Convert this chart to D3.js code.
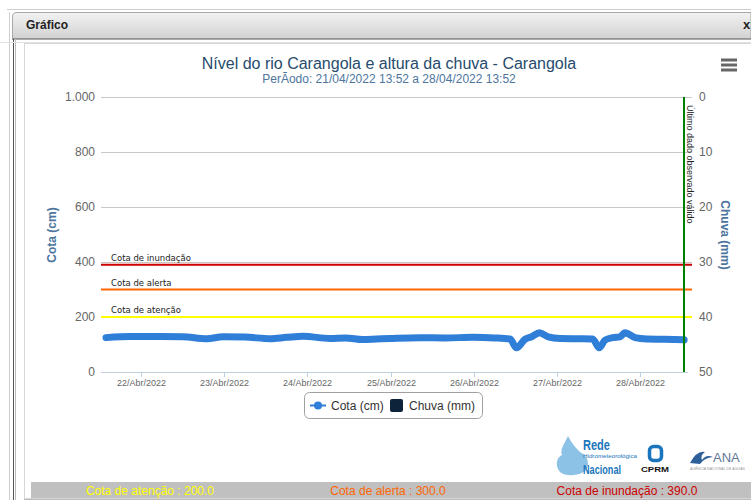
<!DOCTYPE html>
<html>
<head>
<meta charset="utf-8">
<script src="https://cdn.jsdelivr.net/npm/d3@7"></script>
<style>
  html, body { margin: 0; padding: 0; background: #fff; }
  svg { display: block; font-family: 'Liberation Sans', Arial, sans-serif; }
</style>
</head>
<body>
<div id="chart"></div>
<script>
(function() {
  'use strict';

  // cota series (cm)
  var cotaTimes = [
    '2022-04-21 13:52', '2022-04-21 21:00', '2022-04-22 05:30', '2022-04-22 12:00',
    '2022-04-22 19:00', '2022-04-22 23:40', '2022-04-23 06:00', '2022-04-23 13:15',
    '2022-04-23 18:00', '2022-04-23 22:45', '2022-04-24 06:30', '2022-04-24 11:00',
    '2022-04-24 16:00', '2022-04-24 20:00', '2022-04-25 00:00', '2022-04-25 08:30',
    '2022-04-25 16:00', '2022-04-25 23:45', '2022-04-26 06:00', '2022-04-26 10:30',
    '2022-04-26 12:20', '2022-04-26 14:50', '2022-04-26 16:45', '2022-04-26 19:00',
    '2022-04-26 21:30', '2022-04-27 01:00', '2022-04-27 06:00', '2022-04-27 10:20',
    '2022-04-27 12:15', '2022-04-27 13:55', '2022-04-27 16:10', '2022-04-27 18:15',
    '2022-04-27 19:40', '2022-04-27 22:35', '2022-04-28 02:00', '2022-04-28 07:00',
    '2022-04-28 12:45'
  ];
  var cotaValues = [
    125, 129, 129, 128,
    121, 128, 127, 121,
    126, 130, 122, 124,
    118, 120, 122, 125,
    124, 126, 124, 120,
    88, 119, 128, 143,
    128, 122, 121, 120,
    88, 116, 125, 128,
    143, 125, 120, 119,
    117
  ];
  var chuvaValues = [];

  var periodo = ['2022-04-21 13:52', '2022-04-28 13:52'];
  var ultimoDado = '2022-04-28 12:45';

  var cotaTicks = [0, 200, 400, 600, 800, 1000];
  var chuvaTicks = [0, 10, 20, 30, 40, 50];
  var dateTicks = ['2022-04-22', '2022-04-23', '2022-04-24', '2022-04-25', '2022-04-26', '2022-04-27', '2022-04-28'];
  var meses = ['Jan', 'Fev', 'Mar', 'Abr', 'Mai', 'Jun', 'Jul', 'Ago', 'Set', 'Out', 'Nov', 'Dez'];

  var cotaNames = ['Cota de atenção', 'Cota de alerta', 'Cota de inundação'];
  var cotaLevels = [200, 300, 390];
  var cotaColors = ['#ffff00', '#ff6600', '#cc0000'];

  var W = 751, H = 500;
  var plot = { left: 101, right: 686, top: 97, bottom: 372 };

  var parse = d3.timeParse('%Y-%m-%d %H:%M');
  var parseDay = d3.timeParse('%Y-%m-%d');
  var ptFmt = d3.formatLocale({ decimal: ',', thousands: '.', grouping: [3], currency: ['', ''] }).format(',');

  var x = d3.scaleTime().domain(periodo.map(parse)).range([106, 688]);
  var y = d3.scaleLinear().domain([0, 1000]).range([plot.bottom, plot.top]);
  var y2 = d3.scaleLinear().domain([0, 50]).range([plot.top, plot.bottom]);

  var svg = d3.select('#chart').append('svg').attr('width', W).attr('height', H);

  // dialog frame
  var defs = svg.append('defs');
  var grad = defs.append('linearGradient').attr('id', 'hdr').attr('x1', 0).attr('y1', 0).attr('x2', 0).attr('y2', 1);
  grad.append('stop').attr('offset', '0%').attr('stop-color', '#f2f2f2');
  grad.append('stop').attr('offset', '100%').attr('stop-color', '#d2d2d2');

  svg.append('line').attr('x1', 7).attr('x2', W).attr('y1', 9.5).attr('y2', 9.5).attr('stroke', '#cfcfcf');
  svg.append('line').attr('x1', 9.5).attr('x2', 9.5).attr('y1', 12).attr('y2', H).attr('stroke', '#cfcfcf');
  svg.append('path').attr('d', 'M12.5,38.5 V17 Q12.5,12.5 17,12.5 H' + W + ' V38.5 Z')
    .attr('fill', 'url(#hdr)').attr('stroke', '#a8a8a8');
  svg.append('line').attr('x1', 12).attr('x2', W).attr('y1', 39).attr('y2', 39).attr('stroke', '#8c8c8c').attr('stroke-width', 1.5);
  svg.append('line').attr('x1', 13.5).attr('x2', 13.5).attr('y1', 39).attr('y2', H).attr('stroke', '#555');
  svg.append('line').attr('x1', 15.5).attr('x2', 15.5).attr('y1', 39).attr('y2', H).attr('stroke', '#bbb');
  svg.append('line').attr('x1', 0).attr('x2', W).attr('y1', 42.5).attr('y2', 42.5).attr('stroke', '#e2e2e2');
  svg.append('rect').attr('x', 24.5).attr('y', 43.5).attr('width', W).attr('height', 455).attr('fill', '#fff').attr('stroke', '#d6d6d6');
  svg.append('text').attr('x', 26).attr('y', 29).attr('font-size', 12).attr('font-weight', 'bold').attr('fill', '#222').text('Gráfico');
  svg.append('text').attr('x', 743).attr('y', 29).attr('font-size', 13).attr('font-weight', 'bold').attr('fill', '#222').text('x');

  // titles
  svg.append('text').attr('x', 389).attr('y', 69).attr('text-anchor', 'middle').attr('font-size', 16).attr('fill', '#274b6d')
    .text('Nível do rio Carangola e altura da chuva - Carangola');
  svg.append('text').attr('x', 389).attr('y', 83).attr('text-anchor', 'middle').attr('font-size', 12).attr('fill', '#4d759e')
    .text('PerÃodo: 21/04/2022 13:52 a 28/04/2022 13:52');

  // menu icon
  svg.append('g').selectAll('rect').data([0, 1, 2]).enter().append('rect')
    .attr('x', 721).attr('y', function(d) { return 58.5 + d * 5; }).attr('width', 16).attr('height', 3).attr('fill', '#666');

  // grid
  svg.append('g').selectAll('line').data(cotaTicks.slice(1)).enter().append('line')
    .attr('x1', plot.left).attr('x2', 692).attr('y1', function(d) { return Math.round(y(d)) + 0.5; }).attr('y2', function(d) { return Math.round(y(d)) + 0.5; })
    .attr('stroke', '#c8c8c8');

  // x axis
  var xa = svg.append('g');
  xa.append('line').attr('x1', plot.left).attr('x2', 688).attr('y1', plot.bottom + 0.5).attr('y2', plot.bottom + 0.5).attr('stroke', '#c0d0e0');
  var xt = xa.selectAll('g').data(dateTicks.map(parseDay)).enter().append('g')
    .attr('transform', function(d) { return 'translate(' + (Math.round(x(d)) + 0.5) + ',0)'; });
  xt.append('line').attr('y1', plot.bottom).attr('y2', plot.bottom + 5).attr('stroke', '#c0d0e0');
  xt.append('text').attr('y', 386).attr('text-anchor', 'middle').attr('font-size', 9).attr('fill', '#666')
    .text(function(d) { return d3.timeFormat('%d')(d) + '/' + meses[d.getMonth()] + '/' + d.getFullYear(); });

  // y axes
  svg.append('g').selectAll('text').data(cotaTicks).enter().append('text')
    .attr('x', 95).attr('y', function(d) { return y(d) + 4; }).attr('text-anchor', 'end').attr('font-size', 12).attr('fill', '#666')
    .text(function(d) { return ptFmt(d); });
  svg.append('g').selectAll('text').data(chuvaTicks).enter().append('text')
    .attr('x', 699).attr('y', function(d) { return y2(d) + 4; }).attr('font-size', 12).attr('fill', '#666')
    .text(function(d) { return d; });
  svg.append('text').attr('transform', 'translate(56,235) rotate(-90)').attr('text-anchor', 'middle')
    .attr('font-size', 12).attr('font-weight', 'bold').attr('fill', '#4d759e').text('Cota (cm)');
  svg.append('text').attr('transform', 'translate(721,235) rotate(90)').attr('text-anchor', 'middle')
    .attr('font-size', 12).attr('font-weight', 'bold').attr('fill', '#4d759e').text('Chuva (mm)');

  // reference levels
  var lv = svg.append('g').selectAll('g').data(cotaLevels).enter().append('g');
  lv.append('line').attr('x1', plot.left).attr('x2', 692)
    .attr('y1', function(d) { return y(d); }).attr('y2', function(d) { return y(d); })
    .attr('stroke', function(d, i) { return cotaColors[i]; }).attr('stroke-width', 2);
  lv.append('text').attr('x', 111).attr('y', function(d) { return y(d) - 4; })
    .attr('font-size', 8.5).attr('font-family', 'DejaVu Sans, sans-serif').attr('fill', '#222')
    .text(function(d, i) { return cotaNames[i]; });

  // cota line
  var pts = cotaTimes.map(function(t, i) { return [parse(t), cotaValues[i]]; });
  svg.append('path').datum(pts)
    .attr('d', d3.line().x(function(d) { return x(d[0]); }).y(function(d) { return y(d[1]); }).curve(d3.curveMonotoneX))
    .attr('fill', 'none').attr('stroke', '#2f7ed8').attr('stroke-width', 7)
    .attr('stroke-linecap', 'round').attr('stroke-linejoin', 'round');

  // chuva bars (no rain in the period)
  svg.append('g').selectAll('rect').data(chuvaValues).enter().append('rect')
    .attr('x', function(d) { return x(parse(d[0])) - 2; }).attr('y', plot.top).attr('width', 4)
    .attr('height', function(d) { return y2(d[1]) - plot.top; }).attr('fill', '#0d233a');

  // last valid observation
  var xu = Math.round(x(parse(ultimoDado)));
  svg.append('line').attr('x1', xu).attr('x2', xu).attr('y1', plot.top).attr('y2', plot.bottom)
    .attr('stroke', '#008000').attr('stroke-width', 2);
  svg.append('text').attr('transform', 'translate(' + (xu + 3) + ',105) rotate(90)')
    .attr('font-size', 9).attr('fill', '#222').text('Último dado observado válido');

  // legend
  var lg = svg.append('g').attr('transform', 'translate(304,392)');
  lg.append('rect').attr('x', 0.5).attr('y', 0.5).attr('width', 178).attr('height', 26).attr('rx', 5)
    .attr('fill', '#fff').attr('stroke', '#a0a0a0');
  lg.append('line').attr('x1', 6).attr('x2', 22).attr('y1', 13.5).attr('y2', 13.5).attr('stroke', '#2f7ed8').attr('stroke-width', 2);
  lg.append('circle').attr('cx', 14).attr('cy', 13.5).attr('r', 4).attr('fill', '#2f7ed8');
  lg.append('text').attr('x', 27).attr('y', 18).attr('font-size', 12).attr('fill', '#333').text('Cota (cm)');
  lg.append('rect').attr('x', 86).attr('y', 7).attr('width', 13).attr('height', 13).attr('rx', 2).attr('fill', '#0d233a');
  lg.append('text').attr('x', 105).attr('y', 18).attr('font-size', 12).attr('fill', '#333').text('Chuva (mm)');

  // logos
  var lo = svg.append('g');
  lo.append('path').attr('d', 'M568,436 C563,446 560,450 562,455 C556,458 555,466 560,472 C566,477 580,476 586,470 C590,464 588,456 580,452 C576,448 572,444 568,436 Z')
    .attr('fill', '#6fb3de').attr('opacity', 0.8);
  lo.append('text').attr('x', 583).attr('y', 450).attr('font-size', 15).attr('font-weight', 'bold').attr('fill', '#1b75bc')
    .attr('textLength', 27).attr('lengthAdjust', 'spacingAndGlyphs').text('Rede');
  lo.append('text').attr('x', 583).attr('y', 458).attr('font-size', 5).attr('fill', '#1b75bc')
    .attr('textLength', 54).attr('lengthAdjust', 'spacingAndGlyphs').text('Hidrometeorológica');
  lo.append('text').attr('x', 583).attr('y', 474).attr('font-size', 13).attr('font-weight', 'bold').attr('fill', '#1b75bc')
    .attr('textLength', 38).attr('lengthAdjust', 'spacingAndGlyphs').text('Nacional');
  lo.append('rect').attr('x', 649.5).attr('y', 446.5).attr('width', 12).attr('height', 14).attr('rx', 4)
    .attr('fill', 'none').attr('stroke', '#1b75bc').attr('stroke-width', 3.5);
  lo.append('text').attr('x', 641).attr('y', 472).attr('font-size', 8).attr('font-weight', 'bold').attr('fill', '#111')
    .attr('textLength', 28).attr('lengthAdjust', 'spacingAndGlyphs').text('CPRM');
  lo.append('path').attr('d', 'M690,463 Q697,450 705,452 Q700,455 702,460 Q706,454 713,457 Q704,458 700,464 Z').attr('fill', '#2d5f9a');
  lo.append('text').attr('x', 713).attr('y', 462).attr('font-size', 13).attr('fill', '#5f7896').text('ANA');
  lo.append('text').attr('x', 690).attr('y', 470).attr('font-size', 3).attr('fill', '#999')
    .attr('textLength', 55).attr('lengthAdjust', 'spacingAndGlyphs').text('AGÊNCIA NACIONAL DE ÁGUAS');

  // footer bar
  svg.append('rect').attr('x', 31).attr('y', 482).attr('width', W - 31).attr('height', 16).attr('fill', '#c0c0c0');
  svg.append('g').selectAll('text').data(cotaLevels).enter().append('text')
    .attr('x', function(d, i) { return [150, 388, 627][i]; }).attr('y', 495).attr('text-anchor', 'middle')
    .attr('font-size', 12).attr('fill', function(d, i) { return cotaColors[i]; })
    .text(function(d, i) { return cotaNames[i] + ' : ' + d.toFixed(1); });
  svg.append('line').attr('x1', 24).attr('x2', W).attr('y1', 499.5).attr('y2', 499.5).attr('stroke', '#bbb');

}).call(this);
</script>
</body>
</html>
